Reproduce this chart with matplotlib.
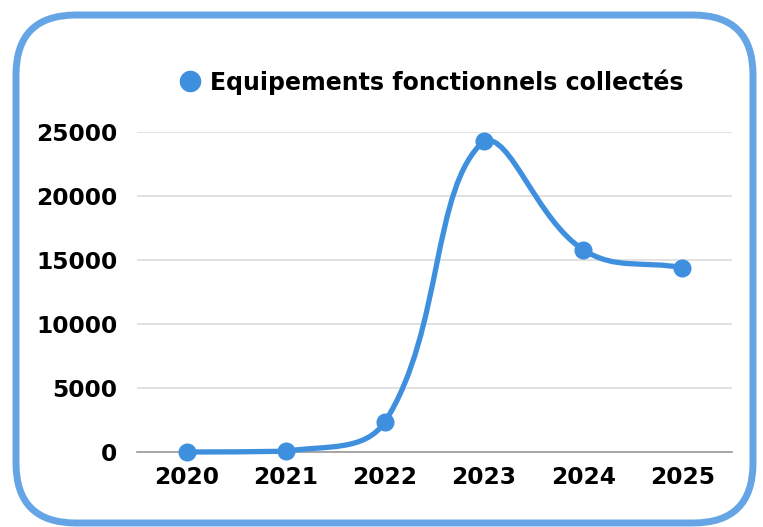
import matplotlib
matplotlib.use("Agg")
import matplotlib.pyplot as plt
import numpy as np
from matplotlib.lines import Line2D
from matplotlib.patches import FancyBboxPatch, PathPatch
from matplotlib.path import Path

years = ["2020", "2021", "2022", "2023", "2024", "2025"]
values = [0, 60, 2350, 24300, 15800, 14400]
series_label = "Equipements fonctionnels collectés"
y_ticks = [0, 5000, 10000, 15000, 20000, 25000]

LINE_COLOR = "#3f8fdf"
BORDER_COLOR = "#66a5e5"

plt.rcParams["font.family"] = ["DejaVu Sans"]
plt.rcParams["font.weight"] = "bold"


def spline_path(ax, xs, ys, tension=0.4):
    # Chart.js like bezier spline, worked out in screen pixels, control points kept in the plot area
    pts = ax.transData.transform(np.column_stack([xs, ys]))
    box = ax.get_window_extent()
    n = len(pts)
    cps = []
    for i in range(n):
        prev = pts[max(i - 1, 0)]
        cur = pts[i]
        nxt = pts[min(i + 1, n - 1)]
        d01 = np.hypot(*(cur - prev))
        d12 = np.hypot(*(nxt - cur))
        tot = d01 + d12
        s01 = d01 / tot if tot else 0
        s12 = d12 / tot if tot else 0
        c1 = cur - tension * s01 * (nxt - prev)
        c2 = cur + tension * s12 * (nxt - prev)
        for c in (c1, c2):
            c[0] = min(max(c[0], box.x0), box.x1)
            c[1] = min(max(c[1], box.y0), box.y1)
        cps.append((c1, c2))
    verts = [pts[0]]
    codes = [Path.MOVETO]
    for i in range(n - 1):
        verts += [cps[i][1], cps[i + 1][0], pts[i + 1]]
        codes += [Path.CURVE4] * 3
    verts = ax.transData.inverted().transform(np.array(verts))
    return Path(verts, codes)


W, H = 763, 527
fig = plt.figure(figsize=(W / 100, H / 100), dpi=100)

# rounded card border, drawn in pixel coordinates
bg = fig.add_axes([0, 0, 1, 1], zorder=0)
bg.set_xlim(0, W)
bg.set_ylim(H, 0)
bg.axis("off")
bg.add_patch(FancyBboxPatch((16, 15), 737, 508,
                            boxstyle="round,pad=0,rounding_size=60",
                            facecolor="white", edgecolor=BORDER_COLOR, linewidth=5))

ax = fig.add_axes([137 / W, (H - 452) / H, (732 - 137) / W, (452 - 132) / H], zorder=1)
ax.patch.set_alpha(0)
x = np.arange(len(years))
ax.set_xlim(-0.5, len(years) - 0.5)
ax.set_ylim(0, 25000)

for s in ["top", "right", "left"]:
    ax.spines[s].set_visible(False)
ax.spines["bottom"].set_color("#9a9a9a")
ax.spines["bottom"].set_linewidth(1.2)
ax.set_yticks(y_ticks)
ax.set_yticklabels([str(v) for v in y_ticks])
ax.set_xticks(x)
ax.set_xticklabels(years)
ax.tick_params(axis="y", length=0, pad=14, labelsize=16.8)
ax.tick_params(axis="x", length=0, pad=10, labelsize=16.8)
ax.grid(axis="y", color="#dcdcdc", linewidth=1.2)
ax.set_axisbelow(True)

ax.add_patch(PathPatch(spline_path(ax, x, values), facecolor="none", edgecolor=LINE_COLOR,
                       linewidth=3.8, capstyle="round", joinstyle="round", zorder=3,
                       clip_on=False))
ax.plot(x, values, linestyle="none", marker="o", markersize=12, color=LINE_COLOR,
        clip_on=False, zorder=4)

handle = Line2D([], [], linestyle="none", marker="o", markersize=14.5, color=LINE_COLOR)
ax.legend([handle], [series_label], loc="center", bbox_to_anchor=(430 / W, 1 - 82 / H),
          bbox_transform=fig.transFigure, frameon=False, handletextpad=0.25,
          handlelength=1.2, prop={"size": 17, "weight": "bold"})

fig.savefig("out.png", dpi=100)
